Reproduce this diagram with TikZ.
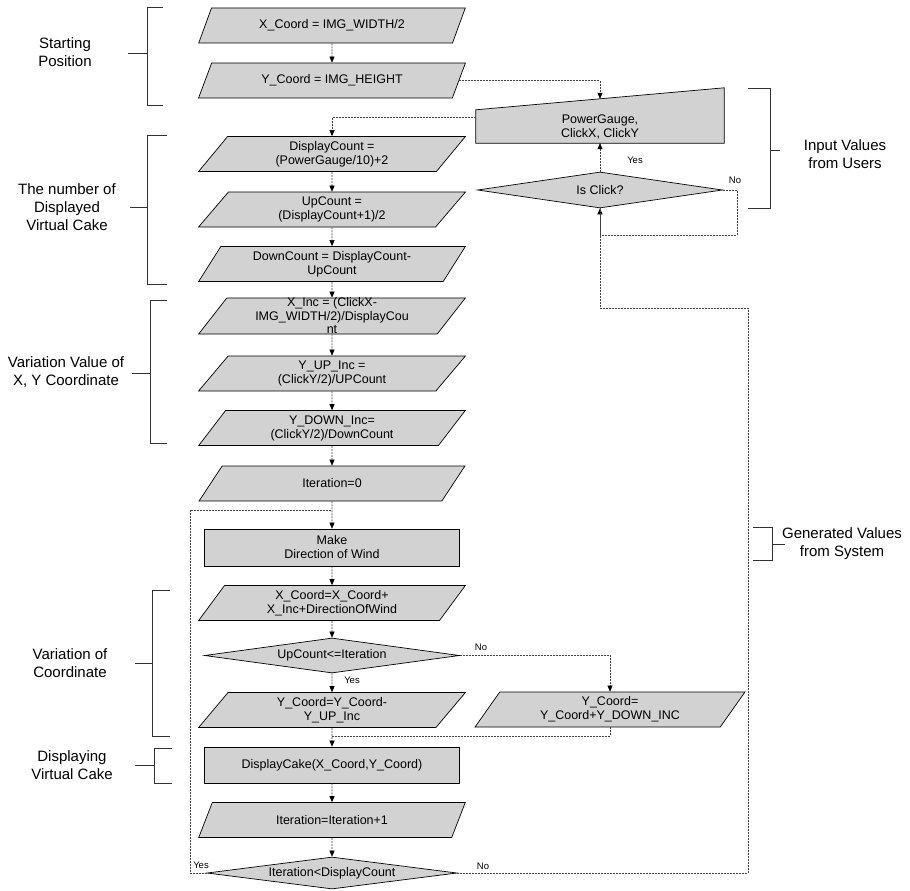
\documentclass[tikz,border=0pt]{standalone}
\usepackage{fontspec}
\setmainfont{Liberation Sans}
\usetikzlibrary{shapes.geometric,arrows.meta,backgrounds}

\begin{document}
\begin{tikzpicture}[x=1pt,y=-1pt,
	box/.style={draw, line width=0.7pt, fill=gray!35, align=center, font=\fontsize{12.5}{14}\selectfont},
	io/.style={box, trapezium, trapezium left angle=60, trapezium right angle=120, trapezium stretches=true, minimum width=267pt, minimum height=35pt, inner sep=1pt},
	proc/.style={box, rectangle, minimum width=255pt, minimum height=37pt, inner sep=1pt},
	cond/.style={box, diamond, aspect=8, minimum width=255pt, minimum height=35pt, inner sep=0pt},
	line/.style={draw=black!75, line width=0.6pt, dash pattern=on 2pt off 1pt},
	flow/.style={line, -{Triangle[length=6pt,width=5pt,color=black]}},
	brace/.style={draw=black!80, line width=0.6pt},
	group/.style={align=center, font=\fontsize{15}{18}\selectfont},
	small/.style={font=\fontsize{9.5}{11}\selectfont, inner sep=1pt}]
	\useasboundingbox (0,0) rectangle (910,891);
	
	% main column
	\node[io] (xInit) at (332,25.5) {X\_Coord = IMG\_WIDTH/2};
	\node[io] (yInit) at (332,80.5) {Y\_Coord = IMG\_HEIGHT};
	\node[io] (dispCnt) at (332,154) {DisplayCount =\\(PowerGauge/10)+2};
	\node[io] (upCnt) at (332,209.5) {UpCount =\\(DisplayCount+1)/2};
	\node[io] (downCnt) at (332,264) {DownCount = DisplayCount-\\UpCount};
	\node[io, font=\fontsize{12.5}{13.5}\selectfont, inner ysep=0pt] (xInc) at (332,316) {X\_Inc = (ClickX-\\IMG\_WIDTH/2)/DisplayCou\\nt};
	\node[io] (yUpInc) at (332,373.5) {Y\_UP\_Inc =\\(ClickY/2)/UPCount};
	\node[io] (yDownInc) at (332,428) {Y\_DOWN\_Inc=\\(ClickY/2)/DownCount};
	\node[io] (iter0) at (332,483.5) {Iteration=0};
	\node[proc] (makeWind) at (332,547.5) {Make\\Direction of Wind};
	\node[io] (xCoord) at (332,603) {X\_Coord=X\_Coord+\\X\_Inc+DirectionOfWind};
	\node[cond] (upCond) at (332,655.5) {UpCount<=Iteration};
	\node[io] (yUp) at (332,710) {Y\_Coord=Y\_Coord-\\Y\_UP\_Inc};
	\node[io, minimum width=270pt] (yDown) at (610,709.5) {Y\_Coord=\\Y\_Coord+Y\_DOWN\_INC};
	\node[proc, minimum height=36pt] (dispCake) at (332,765) {DisplayCake(X\_Coord,Y\_Coord)};
	\node[io] (iterInc) at (332,820) {Iteration=Iteration+1};
	\node[cond, minimum width=250pt, minimum height=32pt] (iterCond) at (332,873) {Iteration<DisplayCount};
	
	% input from users
	\node[align=center, font=\fontsize{12.5}{14}\selectfont, inner sep=1pt, minimum width=248pt, minimum height=33pt] (powerIn) at (600,126.5) {PowerGauge,\\ClickX, ClickY};
	\begin{pgfonlayer}{background}
		\filldraw[line width=0.7pt, fill=gray!35] (powerIn.south west) -- (powerIn.south east) -- ([yshift=22pt]powerIn.north east) -- (powerIn.north west) -- cycle;
	\end{pgfonlayer}
	\node[cond, minimum width=245pt, minimum height=36pt] (isClick) at (600,190) {Is Click?};
	
	\coordinate (joinCake) at (332,736);
	\coordinate (loopTop) at (332,510);
	\coordinate (loopCorner) at (190,510);
	\coordinate (backCorner) at (748,308);
	\coordinate (clickLoop) at (737,235);
	
	\draw[flow] (xInit.south) -- (yInit.north);
	\draw[flow] (yInit.east) -| ([yshift=11pt]powerIn.north);
	\draw[flow] ([yshift=9pt]powerIn.west) -| (dispCnt.north);
	\draw[flow] (dispCnt.south) -- (upCnt.north);
	\draw[flow] (upCnt.south) -- (downCnt.north);
	\draw[flow] (downCnt.south) -- (xInc.north);
	\draw[flow] (xInc.south) -- (yUpInc.north);
	\draw[flow] (yUpInc.south) -- (yDownInc.north);
	\draw[flow] (yDownInc.south) -- (iter0.north);
	\draw[flow] (iter0.south) -- (makeWind.north);
	\draw[flow] (makeWind.south) -- (xCoord.north);
	\draw[flow] (xCoord.south) -- (upCond.north);
	\draw[flow] (upCond.south) -- (yUp.north);
	\draw[flow] (upCond.east) -| (yDown.north);
	\draw[flow] (yUp.south) -- (dispCake.north);
	\draw[line] (yDown.south) |- (joinCake);
	\draw[flow] (dispCake.south) -- (iterInc.north);
	\draw[flow] (iterInc.south) -- (iterCond.north);
	\draw[line] (iterCond.west) -| (loopCorner) -- (loopTop);
	\draw[flow] (iterCond.east) -| (backCorner) -| (isClick.south);
	\draw[line] (isClick.east) -| (clickLoop) -| (isClick.south);
	\draw[flow] (isClick.north) -- (powerIn.south);
	
	\node[small] (yesUp) at (352,680) {Yes};
	\node[small] (noUp) at (481,647) {No};
	\node[small] (yesLoop) at (201,865) {Yes};
	\node[small] (noLoop) at (483,866) {No};
	\node[small] (yesClick) at (635,160) {Yes};
	\node[small] (noClick) at (735,180) {No};
	
	% brackets on the left
	\node[group] (startLbl) at (65,52) {Starting\\Position};
	\draw[brace] (163,7) -- (147,7) -- (147,105) -- (163,105);
	\draw[brace] (147,53) -- (128,53);
	
	\node[group] (countLbl) at (67,207) {The number of\\Displayed\\Virtual Cake};
	\draw[brace] (167,135) -- (147,135) -- (147,284) -- (167,284);
	\draw[brace] (147,207) -- (130,207);
	
	\node[group] (incLbl) at (66,372) {Variation Value of\\X, Y Coordinate};
	\draw[brace] (167,300) -- (150,300) -- (150,443) -- (167,443);
	\draw[brace] (150,373) -- (132,373);
	
	\node[group] (coordLbl) at (70,663) {Variation of\\Coordinate};
	\draw[brace] (170,590) -- (152,590) -- (152,736) -- (170,736);
	\draw[brace] (152,663) -- (135,663);
	
	\node[group] (cakeLbl) at (72,765) {Displaying\\Virtual Cake};
	\draw[brace] (172,748) -- (154,748) -- (154,783) -- (172,783);
	\draw[brace] (154,765) -- (135,765);
	
	% brackets on the right
	\node[group] (userLbl) at (845,154) {Input Values\\from Users};
	\draw[brace] (748,88) -- (770,88) -- (770,208) -- (748,208);
	\draw[brace] (770,150) -- (780,150);
	
	\node[group] (sysLbl) at (842,544) {Generated Values\\from System};
	\draw[brace] (753,527) -- (772,527) -- (772,560) -- (753,560);
	\draw[brace] (772,544) -- (785,544);
\end{tikzpicture}
\end{document}
